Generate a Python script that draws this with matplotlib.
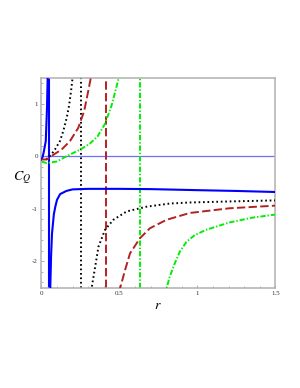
import matplotlib
matplotlib.use("Agg")
import matplotlib.pyplot as plt
from matplotlib.ticker import MultipleLocator

plt.rcParams['lines.scale_dashes'] = False
plt.rcParams['mathtext.fontset'] = 'stix'

# ---- data ----
blue_left_r = [0.0, 0.006, 0.015, 0.028, 0.036, 0.040, 0.044]
blue_left_c = [-0.06, -0.03, 0.08, 0.29, 0.93, 1.5, 3.0]
blue_right_r = [0.052, 0.057, 0.062, 0.068, 0.080, 0.090, 0.100, 0.120, 0.160, 0.200, 0.300, 0.500, 0.700, 1.000, 1.250, 1.500]
blue_right_c = [-3.0, -2.5, -1.9, -1.47, -1.10, -0.95, -0.83, -0.72, -0.66, -0.63, -0.62, -0.62, -0.625, -0.645, -0.66, -0.68]

black_left_r = [0.030, 0.045, 0.060, 0.087, 0.119, 0.140, 0.162, 0.177, 0.190, 0.200, 0.210]
black_left_c = [-0.06, -0.02, 0.02, 0.13, 0.29, 0.48, 0.73, 0.96, 1.24, 1.5, 1.9]
black_right_r = [0.316, 0.323, 0.345, 0.366, 0.408, 0.461, 0.547, 0.674, 0.823, 0.951, 1.206, 1.500]
black_right_c = [-2.65, -2.49, -2.10, -1.72, -1.40, -1.21, -1.05, -0.96, -0.90, -0.88, -0.86, -0.84]

red_left_r = [0.0, 0.034, 0.077, 0.130, 0.183, 0.236, 0.274, 0.300, 0.317, 0.325]
red_left_c = [-0.06, -0.06, 0.03, 0.13, 0.29, 0.54, 0.86, 1.24, 1.5, 1.7]
red_right_r = [0.500, 0.504, 0.536, 0.568, 0.632, 0.696, 0.802, 0.951, 1.206, 1.500]
red_right_c = [-2.60, -2.52, -2.17, -1.85, -1.56, -1.37, -1.21, -1.08, -0.99, -0.94]

green_left_r = [0.002, 0.034, 0.098, 0.160, 0.250, 0.310, 0.360, 0.406, 0.449, 0.474, 0.496, 0.510]
green_left_c = [-0.10, -0.13, -0.10, 0.00, 0.13, 0.24, 0.38, 0.61, 0.96, 1.24, 1.5, 1.8]
green_right_r = [0.795, 0.802, 0.823, 0.855, 0.887, 0.930, 0.983, 1.057, 1.142, 1.206, 1.350, 1.500]
green_right_c = [-2.65, -2.52, -2.29, -2.04, -1.82, -1.63, -1.50, -1.40, -1.32, -1.26, -1.17, -1.11]

asymptotes = [0.050, 0.253, 0.413, 0.634]

x_ticks = [0, 0.5, 1, 1.5]
x_ticklabels = ['0', '0.5', '1', '1.5']
y_ticks = [-2, -1, 0, 1]
y_ticklabels = ['-2', '-1', '0', '1']

# ---- styles ----
blue = '#0000ff'
red = '#b22222'
green = '#00ee00'
styles = [
    dict(color=blue, lw=1.5, linestyle='-'),
    dict(color='black', lw=1.4, linestyle=(0, (1.2, 2.0))),
    dict(color=red, lw=1.4, linestyle=(0, (6.0, 2.4))),
    dict(color=green, lw=1.4, linestyle=(0, (3.8, 1.4, 1.0, 1.4))),
]

fig = plt.figure(figsize=(3.0, 3.88), dpi=100)
ax = fig.add_axes([0.138, 0.259, 0.78, 0.541])

ax.axhline(0, color='#6f6fff', lw=0.9, zorder=1)

branches = [
    (blue_left_r, blue_left_c, blue_right_r, blue_right_c),
    (black_left_r, black_left_c, black_right_r, black_right_c),
    (red_left_r, red_left_c, red_right_r, red_right_c),
    (green_left_r, green_left_c, green_right_r, green_right_c),
]
for (lr, lc, rr, rc), st, xa in zip(branches, styles, asymptotes):
    ax.plot(lr, lc, **st, zorder=3)
    ax.plot(rr, rc, **st, zorder=3)
    ax.axvline(xa, **st, zorder=2)

ax.set_xlim(0, 1.5)
ax.set_ylim(-2.5, 1.5)

ax.set_xticks(x_ticks)
ax.set_xticklabels(x_ticklabels)
ax.set_yticks(y_ticks)
ax.set_yticklabels(y_ticklabels)
ax.xaxis.set_minor_locator(MultipleLocator(0.1))
ax.yaxis.set_minor_locator(MultipleLocator(0.2))
ax.tick_params(which='both', direction='in', color='#a0a0a0', width=0.6,
               top=False, right=False, labelsize=5.0, pad=2.5)
ax.tick_params(which='major', length=2.5)
ax.tick_params(which='minor', length=1.5)
for lab in ax.get_xticklabels() + ax.get_yticklabels():
    lab.set_fontfamily('Liberation Serif')
    lab.set_color('#333333')

for sp in ax.spines.values():
    sp.set_color('#b0b0b0')
    sp.set_linewidth(1.1)

fig.text(158 / 300, 1 - 305 / 388, r'$r$', fontsize=10, ha='center', va='center')
fig.text(22 / 300, 1 - 178 / 388, r'$C_Q$', fontsize=10, ha='center', va='center')

fig.savefig('out.png', dpi=100)
